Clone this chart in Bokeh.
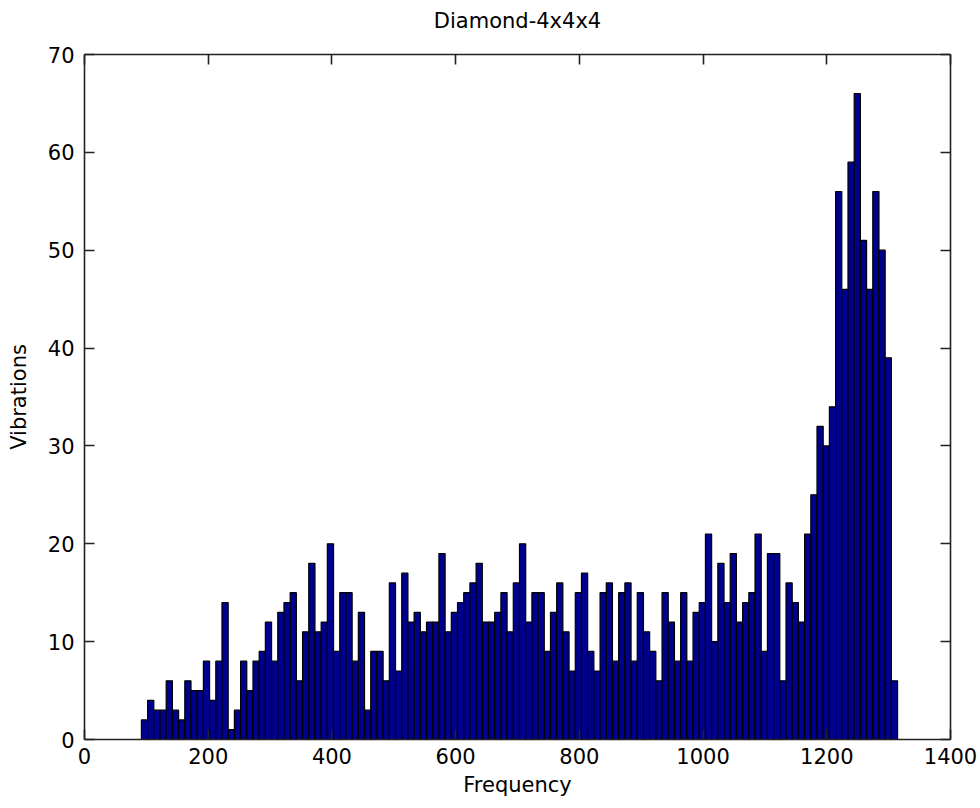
from bokeh.plotting import figure
from bokeh.models import Range1d, LinearAxis, FixedTicker, CustomLabelingPolicy
from bokeh.embed import file_html
from bokeh.resources import INLINE

# histogram counts per bin (Vibrations)
counts = [2, 4, 3, 3, 6, 3, 2, 6, 5, 5, 8, 4, 8, 14, 1, 3, 8, 5, 8, 9, 12, 8,
          13, 14, 15, 6, 11, 18, 11, 12, 20, 9, 15, 15, 8, 13, 3, 9, 9, 6, 16, 7,
          17, 12, 13, 11, 12, 12, 19, 11, 13, 14, 15,
          16, 18, 12, 12, 13, 15, 11, 16, 20, 12, 15, 15, 9, 13, 16, 11, 7, 15, 17,
          9, 7, 15, 16, 8, 15, 16, 8, 15, 11, 9, 6,
          15, 12, 8, 15, 8, 13, 14, 21, 10, 18, 14, 19, 12, 14, 15, 21, 9, 19, 19,
          6, 16, 14, 12, 21,
          25, 32, 30, 34, 56, 46, 59, 66, 51, 46, 56, 50, 39, 6]
bin_start = 92.0     # frequency of first bin's left edge
bin_width = 10.02    # frequency width of a bin
x_ticks = [0, 200, 400, 600, 800, 1000, 1200, 1400]
y_ticks = [0, 10, 20, 30, 40, 50, 60, 70]

lefts = [bin_start + i * bin_width for i in range(len(counts))]
rights = [l + bin_width for l in lefts]

FONT = "DejaVu Sans"
FS = "21px"

p = figure(width=980, height=808, output_backend="svg", toolbar_location=None,
           x_range=Range1d(0, 1400), y_range=Range1d(0, 70),
           min_border_left=84, min_border_right=28, min_border_top=54,
           min_border_bottom=69, title="Diamond-4x4x4")
p.title.align = "center"
p.title.text_font = FONT
p.title.text_font_size = FS
p.title.text_font_style = "normal"
p.title.text_color = "black"
p.title.standoff = 6
p.background_fill_color = "white"
p.border_fill_color = "white"
p.outline_line_color = None
p.grid.visible = False

p.quad(left=lefts, right=rights, top=counts, bottom=0,
       fill_color="#00008F", line_color="black", line_width=1.2)

no_labels = CustomLabelingPolicy(code="""
    for (const i of indices) { indices.unset(i) }
    return indices
""")

def style(ax, labels=True):
    ax.major_tick_in = 10
    ax.major_tick_out = 0
    ax.minor_tick_in = 0
    ax.minor_tick_out = 0
    ax.axis_line_color = "#222222"
    ax.axis_line_width = 1.6
    ax.major_tick_line_color = "#222222"
    ax.major_tick_line_width = 1.6
    ax.major_label_text_font = FONT
    ax.major_label_text_font_size = FS
    ax.major_label_text_color = "black"
    if not labels:
        ax.major_label_policy = no_labels
        ax.major_label_standoff = 0

xa = p.xaxis[0]
xa.ticker = FixedTicker(ticks=x_ticks)
style(xa)
xa.major_label_standoff = 8
xa.axis_label = "Frequency"
xa.axis_label_text_font = FONT
xa.axis_label_text_font_size = FS
xa.axis_label_text_font_style = "normal"
xa.axis_label_text_color = "black"
xa.axis_label_standoff = 6

ya = p.yaxis[0]
ya.ticker = FixedTicker(ticks=y_ticks)
style(ya)
ya.major_label_standoff = 10
ya.axis_label = "Vibrations"
ya.axis_label_text_font = FONT
ya.axis_label_text_font_size = FS
ya.axis_label_text_font_style = "normal"
ya.axis_label_text_color = "black"
ya.axis_label_standoff = 14

top_ax = LinearAxis(ticker=FixedTicker(ticks=x_ticks))
style(top_ax, labels=False)
p.add_layout(top_ax, "above")
right_ax = LinearAxis(ticker=FixedTicker(ticks=y_ticks))
style(right_ax, labels=False)
p.add_layout(right_ax, "right")

open("out.html", "w").write(file_html(p, INLINE))
